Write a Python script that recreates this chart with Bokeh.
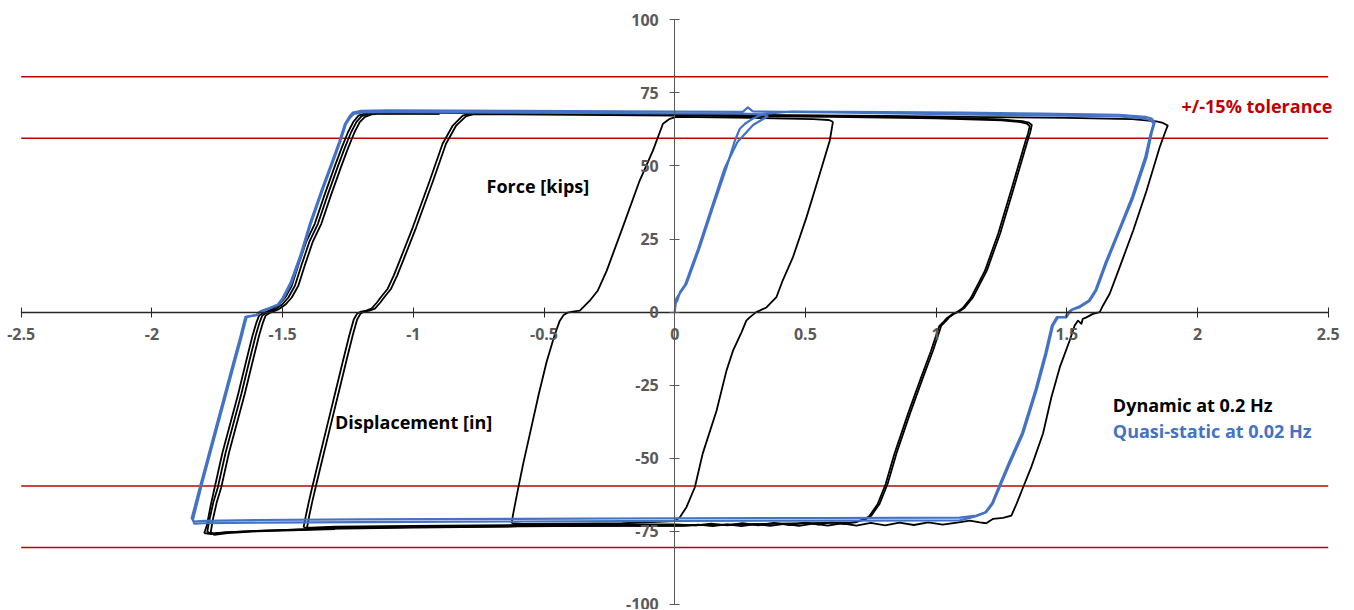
from bokeh.plotting import figure
from bokeh.models import FixedTicker, Label
from bokeh.embed import file_html
from bokeh.resources import INLINE

# ---------------- axis ticks ----------------
x_ticks = [-2.5, -2, -1.5, -1, -0.5, 0, 0.5, 1, 1.5, 2, 2.5]
x_tick_labels = ["-2.5", "-2", "-1.5", "-1", "-0.5", "0", "0.5", "1", "1.5", "2", "2.5"]
y_ticks = [-100, -75, -50, -25, 0, 25, 50, 75, 100]
y_tick_labels = ["-100", "-75", "-50", "-25", "0", "25", "50", "75", "100"]
x_limits = [-2.5, 2.5]
y_limits = [-100, 100]

# +/-15 % tolerance bands [kips]
tolerance_levels = [80.5, 59.5, -59.5, -80.5]

# ---------------- Dynamic at 0.2 Hz (black) ----------------
# small loop (+/-0.6 in)
dyn_a_x = [-0.624, -0.618, -0.605, -0.580, -0.550, -0.520, -0.490, -0.460, -0.440, -0.425, -0.410, -0.390,
           -0.363, -0.325, -0.294, -0.260, -0.199, -0.134, -0.083, -0.045, -0.019, 0.006, 0.300, 0.530,
           0.590, 0.603, 0.605, 0.593, 0.555, 0.504, 0.452, 0.413, 0.389, 0.351, 0.325, 0.312, 0.287,
           0.274, 0.255, 0.223, 0.198, 0.160, 0.107, 0.077, 0.045, 0.019, 0.000, -0.200, -0.400, -0.580,
           -0.624]
dyn_a_y = [-72.2, -69.0, -63.0, -52.0, -40.0, -28.0, -17.0, -8.0, -3.0, -1.0, -0.2, 0.2,
           0.5, 3.9, 7.4, 14.2, 29.0, 45.0, 55.3, 64.4, 66.1, 66.8, 66.4, 66.0,
           65.7, 65.2, 64.9, 58.6, 47.3, 32.4, 18.7, 10.8, 5.1, 1.6, 0.5, 0.0, -1.8,
           -2.9, -7.0, -13.2, -20.0, -33.7, -48.4, -59.9, -66.7, -70.2, -71.5, -72.2, -72.3, -72.4,
           -72.2]

# middle loop (+/-1.4 in), cycle 1
dyn_b1_x = [-1.420, -1.412, -1.400, -1.387, -1.360, -1.330, -1.300, -1.270, -1.245, -1.228, -1.215, -1.200,
            -1.180, -1.160, -1.140, -1.125, -1.098, -1.075, -1.052, -1.002, -0.937, -0.888, -0.849, -0.811,
            -0.784, -0.700, 0.000, 0.600, 1.000, 1.250, 1.330, 1.355, 1.366, 1.360, 1.350, 1.294, 1.245,
            1.194, 1.140, 1.109, 1.090, 1.070, 1.050, 1.039, 1.020, 0.988, 0.950, 0.900, 0.848, 0.815,
            0.784, 0.752, 0.733, 0.700, 0.650, 0.600, 0.550, 0.500, 0.440, 0.380, 0.320, 0.260, 0.200,
            0.140, 0.080, 0.000, -0.600, -1.000, -1.300, -1.390, -1.420]
dyn_b1_y = [-73.6, -70.0, -65.0, -60.0, -50.0, -39.0, -28.0, -17.0, -8.0, -2.5, -0.5, 0.2,
            0.5, 1.2, 3.2, 5.0, 8.0, 12.5, 17.6, 29.0, 45.0, 57.6, 63.8, 67.2,
            67.9, 68.0, 67.5, 67.1, 66.6, 65.9, 65.3, 64.8, 64.0, 61.5, 58.6, 41.5, 26.9,
            14.2, 4.9, 1.5, 0.3, -0.5, -1.8, -2.9, -4.6, -13.2, -22.3, -34.7, -48.4, -58.6,
            -65.5, -69.6, -70.7, -71.6, -72.5, -71.9, -72.7, -72.0, -72.8, -72.1, -72.9, -72.2, -72.9,
            -72.3, -72.9, -72.6, -72.8, -73.1, -73.4, -73.7, -73.6]

# middle loop, cycle 2
dyn_b2_x = [-1.407, -1.399, -1.387, -1.374, -1.347, -1.317, -1.287, -1.257, -1.232, -1.215, -1.202, -1.187,
            -1.167, -1.147, -1.127, -1.112, -1.085, -1.062, -1.039, -0.989, -0.924, -0.875, -0.836, -0.798,
            -0.771, -0.700, 0.000, 0.600, 1.000, 1.250, 1.322, 1.347, 1.358, 1.352, 1.342, 1.286, 1.237,
            1.186, 1.132, 1.101, 1.082, 1.062, 1.042, 1.031, 1.012, 0.980, 0.942, 0.892, 0.840, 0.807,
            0.776, 0.744, 0.725, 0.690, 0.000, -0.600, -1.000, -1.300, -1.380, -1.407]
dyn_b2_y = [-73.9, -70.0, -65.0, -60.0, -50.0, -39.0, -28.0, -17.0, -8.0, -2.5, -0.5, 0.2,
            0.5, 1.2, 3.2, 5.0, 8.0, 12.5, 17.6, 29.0, 45.0, 57.6, 63.8, 67.0,
            67.6, 67.7, 67.2, 66.8, 66.3, 65.6, 65.0, 64.5, 63.6, 61.2, 58.4, 41.3, 26.7,
            14.0, 4.7, 1.3, 0.1, -0.7, -2.0, -3.1, -4.8, -13.4, -22.5, -34.9, -48.6, -58.8,
            -65.7, -69.8, -70.9, -71.9, -73.0, -73.2, -73.5, -73.8, -74.0, -73.9]

# large loop (+/-1.85 in), cycle 1
dyn_c1_x = [-1.800, -1.790, -1.775, -1.760, -1.730, -1.700, -1.670, -1.640, -1.615, -1.600, -1.590, -1.575,
            -1.560, -1.540, -1.515, -1.490, -1.465, -1.440, -1.410, -1.377, -1.340, -1.300, -1.275, -1.250,
            -1.230, -1.210, -1.185, -1.150, -0.800, -0.400, 0.000, 0.400, 0.800, 1.200, 1.500, 1.750,
            1.843, 1.868, 1.886, 1.874, 1.855, 1.805, 1.754, 1.702, 1.664, 1.638, 1.626, 1.600, 1.575,
            1.561, 1.556, 1.543, 1.530, 1.511, 1.473, 1.441, 1.409, 1.364, 1.333, 1.308, 1.288, 1.256,
            1.218, 1.192, 1.167, 1.129, 1.080, 1.025, 0.970, 0.915, 0.860, 0.805, 0.750, 0.695, 0.640,
            0.585, 0.530, 0.475, 0.420, 0.365, 0.310, 0.255, 0.200, 0.145, 0.090, 0.035, 0.000, -0.300,
            -0.600, -1.000, -1.400, -1.600, -1.720, -1.780, -1.800]
dyn_c1_y = [-75.6, -73.0, -66.0, -60.0, -48.0, -38.0, -28.0, -17.0, -8.0, -3.5, -1.2, -0.3,
            0.2, 1.0, 2.5, 5.0, 9.0, 16.0, 24.0, 30.2, 40.0, 50.0, 56.0, 61.5,
            65.0, 67.2, 68.0, 68.3, 68.1, 67.9, 67.7, 67.4, 67.1, 66.7, 66.4, 66.0,
            65.2, 64.7, 63.8, 61.0, 56.3, 41.5, 27.9, 15.3, 6.3, 2.2, 0.0, -0.6, -1.8,
            -2.3, -4.0, -2.9, -4.6, -9.7, -18.9, -29.1, -41.5, -53.0, -59.9, -65.5, -69.6, -70.4,
            -70.7, -72.2, -71.9, -71.3, -72.0, -72.7, -71.9, -72.8, -72.0, -72.9, -72.1, -73.0, -72.2,
            -73.0, -72.3, -73.1, -72.4, -73.1, -72.5, -73.2, -72.6, -73.2, -72.7, -73.1, -73.0, -73.1,
            -73.3, -73.7, -74.2, -74.8, -75.3, -75.8, -75.6]

# large loop, left branch of cycles 2 and 3
dyn_c2_x = [-1.300, -1.600, -1.720, -1.775, -1.788, -1.780, -1.765, -1.748, -1.718, -1.688, -1.658, -1.628,
            -1.603, -1.588, -1.578, -1.563, -1.548, -1.528, -1.503, -1.478, -1.453, -1.428, -1.398, -1.365,
            -1.328, -1.288, -1.263, -1.238, -1.218, -1.198, -1.173, -1.140, -0.900]
dyn_c2_y = [-74.0, -74.8, -75.3, -75.9, -75.0, -71.0, -65.0, -60.0, -48.0, -38.0, -28.0, -17.0,
            -8.0, -3.5, -1.2, -0.3, 0.2, 1.0, 2.5, 5.0, 9.0, 16.0, 24.0, 30.2,
            40.0, 50.0, 56.0, 61.5, 65.0, 67.0, 67.8, 68.1, 67.9]
dyn_c3_x = [-1.300, -1.600, -1.710, -1.762, -1.775, -1.767, -1.752, -1.735, -1.705, -1.675, -1.645, -1.615,
            -1.590, -1.575, -1.565, -1.550, -1.535, -1.515, -1.490, -1.465, -1.440, -1.415, -1.385, -1.352,
            -1.315, -1.275, -1.250, -1.225, -1.205, -1.185, -1.160, -1.128, -0.900]
dyn_c3_y = [-74.2, -75.0, -75.6, -76.2, -75.2, -71.0, -65.0, -60.0, -48.0, -38.0, -28.0, -17.0,
            -8.0, -3.5, -1.2, -0.3, 0.2, 1.0, 2.5, 5.0, 9.0, 16.0, 24.0, 30.2,
            40.0, 50.0, 56.0, 61.5, 65.0, 66.8, 67.6, 67.9, 67.8]

# ---------------- Quasi-static at 0.02 Hz (blue) ----------------
qs1_x = [0.000, 0.006, 0.026, 0.045, 0.096, 0.146, 0.198, 0.230, 0.249, 0.270, 0.287, 0.300, 0.325, 0.351,
         0.450, 0.800, 1.100, 1.400, 1.700, 1.800, 1.825, 1.836, 1.824, 1.805, 1.754, 1.702, 1.651, 1.613,
         1.588, 1.549, 1.520, 1.511, 1.498, 1.466, 1.447, 1.422, 1.384, 1.333, 1.282, 1.243, 1.217, 1.192,
         1.154, 1.090, 0.600, 0.000, -0.600, -1.200, -1.600, -1.800, -1.840, -1.848,
         -1.817, -1.778, -1.733, -1.691, -1.662, -1.648, -1.642, -1.620, -1.600, -1.590, -1.575, -1.550,
         -1.520, -1.500, -1.470, -1.430, -1.396, -1.350, -1.305, -1.283, -1.262, -1.245, -1.232, -1.200,
         -1.100, -0.600, 0.000, 0.260, 0.280, 0.300]
qs1_y = [0.0, 4.6, 7.3, 9.7, 22.2, 35.8, 49.5, 58.6, 62.7, 64.5, 65.5, 66.2, 67.2, 67.9,
         68.6, 68.4, 68.2, 67.9, 67.5, 66.8, 66.2, 64.9, 61.0, 52.9, 39.2, 27.9, 16.6, 7.4,
         3.9, 1.6, 0.8, 0.0, -1.8, -1.8, -4.6, -14.2, -26.8, -41.5, -51.8, -59.9, -65.5, -68.4,
         -69.6, -70.3, -70.4, -70.5, -70.7, -70.9, -71.1, -71.4, -71.6, -70.5,
         -60.0, -47.0, -32.0, -18.0, -8.5, -3.5, -1.6, -1.3, -1.0, 0.0, 0.6, 1.4,
         2.5, 4.8, 10.0, 20.0, 30.2, 42.0, 52.9, 58.4, 64.3, 66.8, 68.2, 68.8,
         69.0, 68.8, 68.6, 68.5, 70.0, 68.6]

qs2_x = [0.300, 0.600, 1.100, 1.500, 1.700, 1.790, 1.822, 1.832, 1.820, 1.800, 1.750, 1.700, 1.648, 1.610,
         1.585, 1.545, 1.520, 1.506, 1.495, 1.462, 1.443, 1.418, 1.380, 1.329, 1.278, 1.240, 1.214, 1.188,
         1.150, 1.090, 0.600, 0.000, -0.600, -1.200, -1.600, -1.800, -1.838, -1.843,
         -1.812, -1.773, -1.728, -1.686, -1.657, -1.643, -1.637, -1.615, -1.596, -1.586, -1.571, -1.546,
         -1.516, -1.496, -1.466, -1.426, -1.392, -1.346, -1.301, -1.279, -1.258, -1.241, -1.228, -1.196,
         -1.100, -0.600, 0.000, 0.250, 0.340, 0.355, 0.330, 0.300, 0.240, 0.190, 0.140, 0.090, 0.040,
         0.020, 0.008]
qs2_y = [68.6, 68.3, 67.6, 67.2, 66.9, 66.3, 65.6, 64.5, 60.8, 53.0, 39.5, 28.3, 16.9, 7.6,
         4.0, 1.8, 0.9, 0.0, -1.6, -1.7, -4.5, -14.0, -26.6, -41.3, -51.6, -59.7, -65.3, -68.5,
         -69.9, -71.2, -71.3, -71.4, -71.6, -71.8, -72.0, -72.2, -72.3, -71.0,
         -60.0, -47.0, -32.0, -18.0, -8.5, -3.5, -1.6, -1.3, -1.0, 0.0, 0.6, 1.4,
         2.5, 4.8, 10.0, 20.0, 30.2, 42.0, 52.9, 58.4, 64.3, 66.6, 67.8, 68.3,
         68.4, 68.2, 68.0, 67.9, 67.6, 67.0, 65.6, 64.0, 58.2, 49.0, 35.4, 21.8, 9.4,
         6.8, 3.4]

# ---------------- styling ----------------
FONT = "Open Sans"
BLACK = "#000000"
BLUE = "#4472C4"
RED = "#C00000"
GRAY = "#595959"

p = figure(width=1350, height=609, x_range=(-2.564, 2.570), y_range=(-101.7, 105.2),
           output_backend="svg", toolbar_location=None,
           min_border_left=4, min_border_right=4, min_border_top=4, min_border_bottom=0)
p.xgrid.visible = False
p.ygrid.visible = False
p.outline_line_color = None
p.background_fill_color = "white"
p.border_fill_color = "white"

# axes crossing at the origin
p.xaxis.fixed_location = 0
p.yaxis.fixed_location = 0
p.xaxis.bounds = tuple(x_limits)
p.yaxis.bounds = tuple(y_limits)
p.xaxis.ticker = FixedTicker(ticks=x_ticks)
p.yaxis.ticker = FixedTicker(ticks=y_ticks)
p.xaxis.major_label_overrides = {t: s for t, s in zip(x_ticks, x_tick_labels)}
p.yaxis.major_label_overrides = {t: s for t, s in zip(y_ticks, y_tick_labels)}
for ax in (p.xaxis, p.yaxis):
    ax.major_tick_in = 5
    ax.major_tick_out = 5
    ax.minor_tick_line_color = None
    ax.major_label_text_font = FONT
    ax.major_label_text_font_style = "bold"
    ax.major_label_text_font_size = "16px"
    ax.major_label_text_color = GRAY
p.xaxis.axis_line_color = "#262626"
p.xaxis.major_tick_line_color = "#262626"
p.xaxis.axis_line_width = 1.3
p.xaxis.major_label_standoff = 11
p.yaxis.axis_line_color = "#595959"
p.yaxis.major_tick_line_color = "#595959"
p.yaxis.major_label_standoff = 11

# tolerance lines
for lvl in tolerance_levels:
    p.line(x_limits, [lvl, lvl], line_color=RED, line_width=1.5)

# dynamic loops
for xs, ys in [(dyn_a_x, dyn_a_y), (dyn_b1_x, dyn_b1_y), (dyn_b2_x, dyn_b2_y),
               (dyn_c1_x, dyn_c1_y), (dyn_c2_x, dyn_c2_y), (dyn_c3_x, dyn_c3_y)]:
    p.line(xs, ys, line_color=BLACK, line_width=1.8, line_join="round")

# quasi-static loops
for xs, ys in [(qs1_x, qs1_y), (qs2_x, qs2_y)]:
    p.line(xs, ys, line_color=BLUE, line_width=2.2, line_join="round")

def add_text(x, y, text, color, align="left"):
    p.add_layout(Label(x=x, y=y, text=text, text_color=color, text_font=FONT,
                       text_font_style="bold", text_font_size="18px",
                       text_align=align, text_baseline="middle"))

add_text(2.516, 70.6, "+/-15% tolerance", RED, align="right")
add_text(-0.72, 43.2, "Force [kips]", BLACK)
add_text(-1.30, -37.7, "Displacement [in]", BLACK)
add_text(1.676, -31.6, "Dynamic at 0.2 Hz", BLACK)
add_text(1.676, -40.75, "Quasi-static at 0.02 Hz", BLUE)

open("out.html", "w").write(file_html(p, INLINE))
